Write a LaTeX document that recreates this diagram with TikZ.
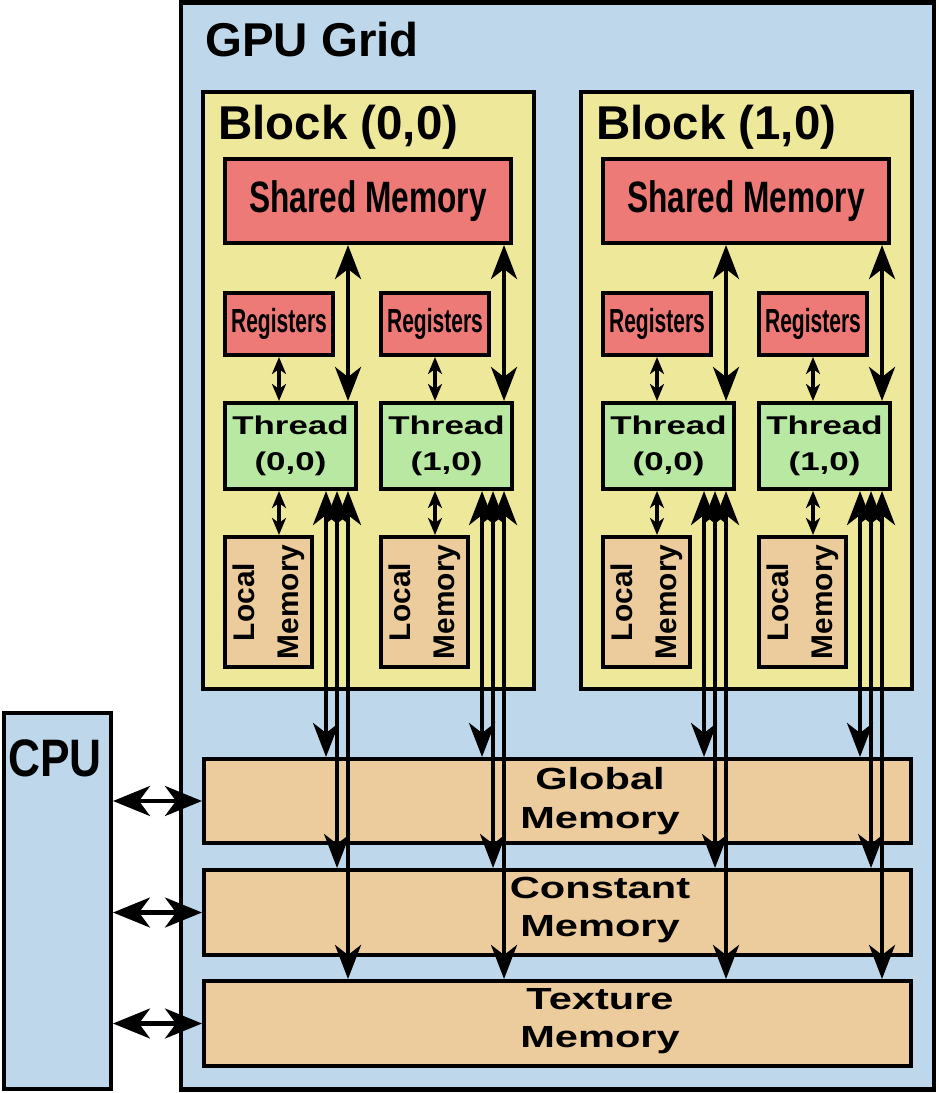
\documentclass[tikz,border=0pt]{standalone}
\usepackage{fontspec}
\setmainfont{Liberation Sans}
\newfontfamily\narrowfont[FakeStretch=0.72]{Liberation Sans}
\newfontfamily\regfont[FakeStretch=0.63]{Liberation Sans}
\newfontfamily\widefont[FakeStretch=1.36]{Liberation Sans}
\newfontfamily\cpufont[FakeStretch=0.84]{Liberation Sans}
\usetikzlibrary{arrows.meta}

\definecolor{gridblue}{RGB}{190,215,234}
\definecolor{blockyellow}{RGB}{238,232,155}
\definecolor{memred}{RGB}{238,122,120}
\definecolor{threadgreen}{RGB}{185,232,162}
\definecolor{memtan}{RGB}{236,204,156}

\tikzset{
	box/.style={draw=black, line width=2.3pt, rectangle, inner sep=0pt},
	title/.style={anchor=base west, inner sep=0pt, font=\bfseries\fontsize{27}{32}\selectfont},
	memtext/.style={align=center, inner sep=0pt, font=\widefont\bfseries\fontsize{17.4}{22}\selectfont},
	bigarrow/.style={line width=2.3pt, {Stealth[length=0.68cm,width=0.52cm,inset=0.2cm]}-{Stealth[length=0.68cm,width=0.52cm,inset=0.2cm]}},
	smallarrow/.style={line width=2pt, {Stealth[length=0.34cm,width=0.28cm,inset=0.1cm]}-{Stealth[length=0.34cm,width=0.28cm,inset=0.1cm]}},
	cpuarrow/.style={line width=2.3pt, {Stealth[length=0.74cm,width=0.6cm,inset=0.22cm]}-{Stealth[length=0.74cm,width=0.6cm,inset=0.22cm]}}
}

\begin{document}
\begin{tikzpicture}[y=-1cm]
			%%%%% START %%%%%
			\useasboundingbox (0,0) rectangle (18.76,21.86);
			
			% host and device
			\node[box, fill=gridblue, minimum width=15.06cm, minimum height=21.74cm] (gpu) at (11.15,10.92) {};
			\node[title] (gpu-title) at (4.10,1.14) {GPU Grid};
			\node[box, fill=gridblue, minimum width=2.14cm, minimum height=7.52cm] (cpu) at (1.15,18.02) {};
			\node[title, font=\cpufont\bfseries\fontsize{30}{36}\selectfont] (cpu-title) at (0.16,15.52) {CPU};
			
			% blocks with their threads
			\foreach \b/\bx in {0/0,1/7.56}{
				\begin{scope}[xshift=\bx cm]
					\node[box, fill=blockyellow, minimum width=6.62cm, minimum height=11.94cm] (blk\b) at (7.37,7.81) {};
					\node[title] (blk\b-title) at (4.36,2.80) {Block (\b,0)};
					\node[box, fill=memred, minimum width=5.72cm, minimum height=1.68cm,
						font=\narrowfont\bfseries\fontsize{25}{30}\selectfont] (sm\b) at (7.36,4.02) {Shared Memory};
					\foreach \t/\tx in {0/0,1/3.12}{
						\node[box, fill=memred, minimum width=2.16cm, minimum height=1.24cm,
							font=\regfont\bfseries\fontsize{19}{22}\selectfont] (reg\b\t) at (5.58+\tx,6.48) {Registers};
						\node[box, fill=threadgreen, minimum width=2.62cm, minimum height=1.72cm, align=center,
							font=\widefont\bfseries\fontsize{14.6}{20.4}\selectfont] (thr\b\t) at (5.81+\tx,8.92) {Thread\\(\t,0)};
						\node[box, fill=memtan, minimum width=1.74cm, minimum height=2.60cm] (loc\b\t) at (5.37+\tx,12.04) {};
						\node[rotate=90, align=center, inner sep=0pt,
							font=\bfseries\fontsize{17}{25}\selectfont] (loc\b\t-txt) at (loc\b\t) {Local\\Memory};
					}
				\end{scope}
			}
			
			% device memories
			\node[box, fill=memtan, minimum width=14.14cm, minimum height=1.68cm] (glob) at (11.15,16.02) {};
			\node[box, fill=memtan, minimum width=14.14cm, minimum height=1.70cm] (const) at (11.15,18.25) {};
			\node[box, fill=memtan, minimum width=14.14cm, minimum height=1.70cm] (tex) at (11.15,20.47) {};
			\node[memtext] (glob-txt) at (12.0,16.02) {Global\\Memory};
			\node[memtext] (const-txt) at (12.0,18.20) {Constant\\Memory};
			\node[memtext] (tex-txt) at (12.0,20.42) {Texture\\Memory};
			
			% data paths
			\foreach \b in {0,1}{
				\foreach \t in {0,1}{
					\draw[smallarrow] (reg\b\t.south) -- (reg\b\t.south |- thr\b\t.north);
					\draw[smallarrow] (reg\b\t.south |- thr\b\t.south) -- (reg\b\t.south |- loc\b\t.north);
					\coordinate (sp\b\t) at ([xshift=-0.20cm]thr\b\t.north east);
					\draw[bigarrow] (sm\b.south -| sp\b\t) -- (sp\b\t);
					\coordinate (gl\b\t) at ([xshift=-0.64cm]thr\b\t.south east);
					\coordinate (cn\b\t) at ([xshift=-0.42cm]thr\b\t.south east);
					\coordinate (tx\b\t) at ([xshift=-0.20cm]thr\b\t.south east);
					\draw[bigarrow] (gl\b\t) -- (gl\b\t |- glob.north);
					\draw[bigarrow] (cn\b\t) -- (cn\b\t |- const.north);
					\draw[bigarrow] (tx\b\t) -- (tx\b\t |- tex.north);
				}
			}
			
			\draw[cpuarrow] (cpu.east |- glob) -- (glob.west);
			\draw[cpuarrow] (cpu.east |- const) -- (const.west);
			\draw[cpuarrow] (cpu.east |- tex) -- (tex.west);
			
			%%%%% END %%%%%
\end{tikzpicture}
\end{document}
